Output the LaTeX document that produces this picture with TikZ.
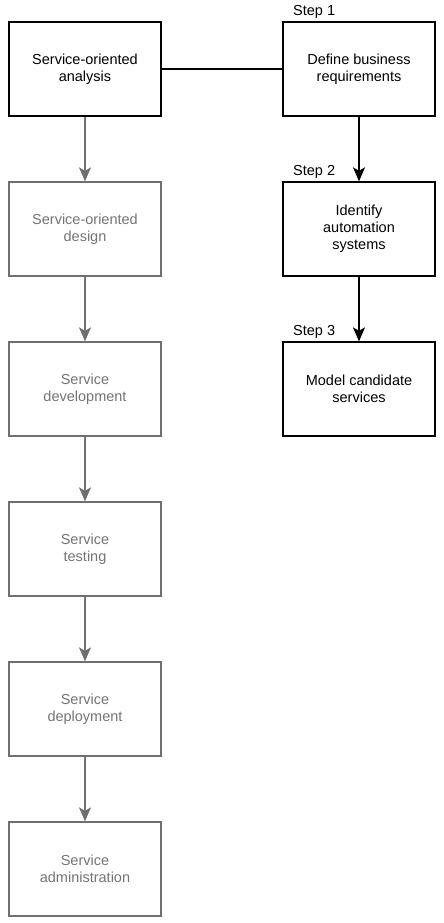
\documentclass[tikz,border=0pt]{standalone}
\usepackage{fontspec}
\setmainfont{Liberation Sans}
\usetikzlibrary{arrows.meta}
\definecolor{fadegray}{HTML}{707070}
\definecolor{fadetext}{HTML}{747474}
\begin{document}
\begin{tikzpicture}[x=1pt,y=-1pt,
  box/.style={draw,line width=1.3pt,minimum width=152pt,minimum height=94pt,align=center,inner sep=0pt,font=\fontsize{14.5}{17}\selectfont},
  fadebox/.style={box,draw=fadegray,text=fadetext},
  flow/.style={line width=1.3pt,-{Stealth[length=14pt,width=12pt,inset=3.5pt]}},
  steplabel/.style={anchor=west,inner sep=0pt,font=\fontsize{14.5}{17}\selectfont}]
\useasboundingbox (0,0) rectangle (444,923);
\node[box] (analysis) at (85,69) {Service-oriented\\analysis};
\node[fadebox] (design) at (85,229) {Service-oriented\\design};
\node[fadebox] (development) at (85,389) {Service\\development};
\node[fadebox] (testing) at (85,549) {Service\\testing};
\node[fadebox] (deployment) at (85,709) {Service\\deployment};
\node[fadebox] (administration) at (85,869) {Service\\administration};
\node[box] (define) at (359,69) {Define business\\requirements};
\node[box] (identify) at (359,229) {Identify\\automation\\systems};
\node[box] (model) at (359,389) {Model candidate\\services};
\node[steplabel] (step1) at (293,12) {Step 1};
\node[steplabel] (step2) at (293,172) {Step 2};
\node[steplabel] (step3) at (293,332) {Step 3};
\draw[line width=1.3pt] (analysis) -- (define);
\draw[flow,fadegray] (analysis) -- (design);
\draw[flow,fadegray] (design) -- (development);
\draw[flow,fadegray] (development) -- (testing);
\draw[flow,fadegray] (testing) -- (deployment);
\draw[flow,fadegray] (deployment) -- (administration);
\draw[flow] (define) -- (identify);
\draw[flow] (identify) -- (model);
\end{tikzpicture}
\end{document}
